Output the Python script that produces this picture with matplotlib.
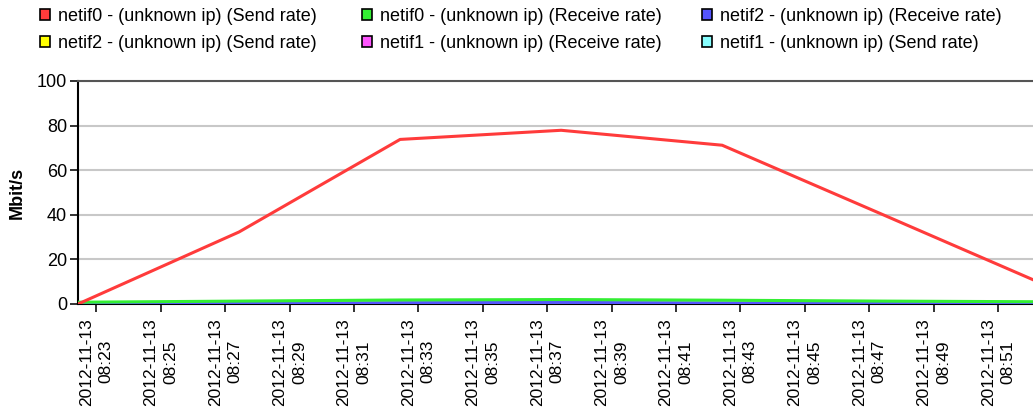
import pandas as pd
import matplotlib
matplotlib.use("Agg")
import matplotlib.pyplot as plt
from matplotlib.patches import Patch

plt.rcParams['font.family'] = ['Liberation Sans', 'DejaVu Sans']

# sample times (5 min apart)
times = pd.to_datetime(['2012-11-13 08:22:26', '2012-11-13 08:27:26', '2012-11-13 08:32:26',
                        '2012-11-13 08:37:26', '2012-11-13 08:42:26', '2012-11-13 08:47:26',
                        '2012-11-13 08:52:26'])

# series values in Mbit/s
netif0_send = [0.0, 32.3, 73.8, 77.9, 71.2, 40.0, 8.7]
netif0_recv = [0.8, 1.3, 1.8, 2.0, 1.7, 1.3, 1.0]
netif2_recv = [0.0, 0.3, 0.6, 0.7, 0.5, 0.2, 0.0]
netif2_send = [0.0, 0.0, 0.0, 0.0, 0.0, 0.0, 0.0]
netif1_recv = [0.0, 0.0, 0.0, 0.0, 0.0, 0.0, 0.0]
netif1_send = [0.0, 0.0, 0.0, 0.0, 0.0, 0.0, 0.0]

labels = ['netif0 - (unknown ip) (Send rate)', 'netif0 - (unknown ip) (Receive rate)',
          'netif2 - (unknown ip) (Receive rate)', 'netif2 - (unknown ip) (Send rate)',
          'netif1 - (unknown ip) (Receive rate)', 'netif1 - (unknown ip) (Send rate)']
colors = ['#ff3b3b', '#33ee33', '#5555ff', '#ffff00', '#ff55ff', '#88ffff']
series = [netif0_send, netif0_recv, netif2_recv, netif2_send, netif1_recv, netif1_send]

tick_times = pd.date_range('2012-11-13 08:23', '2012-11-13 08:51', freq='2min')
x_start = pd.Timestamp('2012-11-13 08:22:26')
x_end = pd.Timestamp('2012-11-13 08:52:05')

W, H = 1033, 415
fig = plt.figure(figsize=(W / 100, H / 100), dpi=100)
ax = fig.add_axes([78 / W, 1 - 304 / H, 1 - 78 / W, (304 - 81) / H])

# draw from last to first so red ends up on top
for vals, c in reversed(list(zip(series, colors))):
    ax.plot(times, vals, color=c, lw=2.2, solid_capstyle='butt', zorder=3)

ax.set_xlim(x_start, x_end)
ax.set_ylim(0, 100)
ax.set_yticks([0, 20, 40, 60, 80, 100])
ax.set_xticks(tick_times)
ax.set_xticklabels([t.strftime('%Y-%m-%d\n%H:%M') for t in tick_times], rotation=90,
                   fontsize=12.5, linespacing=1.4)
ax.tick_params(axis='y', labelsize=13, length=6, width=1.3, color='#222222', pad=2)
ax.tick_params(axis='x', length=6, width=1.3, color='#222222', pad=4)

ax.grid(axis='y', color='#c8c8c8', lw=1.5, zorder=0)
ax.set_axisbelow(True)
for s in ['left', 'bottom']:
    ax.spines[s].set_color('black')
    ax.spines[s].set_linewidth(1.5)
ax.spines['top'].set_color('#555555')
ax.spines['top'].set_linewidth(1.5)
ax.spines['right'].set_visible(False)

ax.set_ylabel('Mbit/s', fontsize=13, fontweight='bold')
ax.yaxis.set_label_coords(-52 / 955, 0.5)

# legend, one column at a time so the columns sit where they should
col_x = [40, 362, 702]
for i, cx in enumerate(col_x):
    handles = [Patch(facecolor=colors[i], edgecolor='black', lw=1.2, label=labels[i]),
               Patch(facecolor=colors[i + 3], edgecolor='black', lw=1.2, label=labels[i + 3])]
    fig.legend(handles=handles, loc='upper left', bbox_to_anchor=(cx / W, 1 - 8 / H),
               frameon=False, fontsize=13, borderpad=0, borderaxespad=0,
               handlelength=0.55, handleheight=0.55, handletextpad=0.45, labelspacing=0.55)

fig.savefig('out.png', dpi=100)
